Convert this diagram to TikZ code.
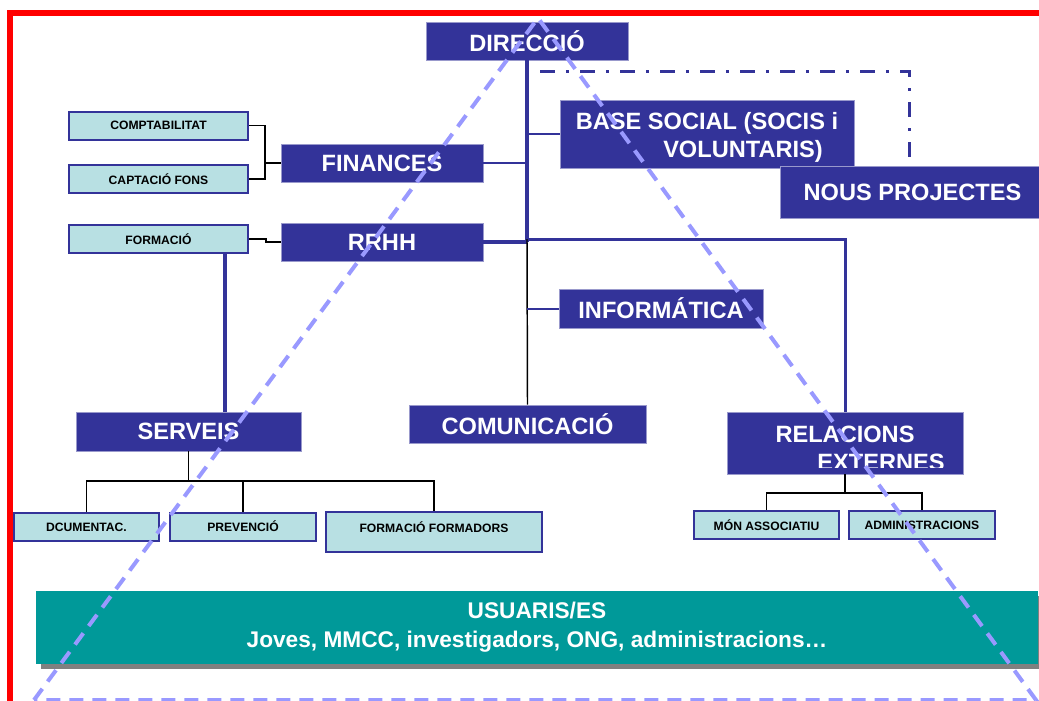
\documentclass[tikz,border=0pt]{standalone}
\usepackage{fontspec}
\setmainfont{Liberation Sans}
\usetikzlibrary{positioning,shadows}
\definecolor{navy}{HTML}{333399}
\definecolor{navyedge}{HTML}{9999CC}
\definecolor{lightbox}{HTML}{B8E0E3}
\definecolor{usuteal}{HTML}{009999}
\definecolor{trianglecol}{HTML}{9999FF}

\begin{document}
\begin{tikzpicture}[x=0.75pt, y=-0.75pt,
	big/.style={draw=navyedge, line width=0.6pt, fill=navy, text=white, inner sep=0pt,
		align=center, font=\fontsize{17.7}{21}\selectfont\bfseries},
	bigtext/.style={text=white, inner sep=0pt, align=center, font=\fontsize{17.7}{21}\selectfont\bfseries},
	small/.style={draw=navy, line width=1.5pt, fill=lightbox, inner sep=0pt,
		minimum width=134.25pt, minimum height=21pt, font=\fontsize{9.1}{10}\selectfont\bfseries},
	wire/.style={draw=navy, line width=1.5pt},
	fatwire/.style={draw=navy, line width=3pt},
	tree/.style={draw=black, line width=1.1pt},
	dashdot/.style={draw=navy, line width=2.25pt, dash pattern=on 11.25pt off 8.25pt on 2.25pt off 8.25pt},
	tri/.style={draw=trianglecol, line width=3pt, dash pattern=on 10.5pt off 6.75pt}]
	\useasboundingbox (0,0) rectangle (1039,700);
	\clip (0,0) rectangle (1039,700);
	\draw[red, line width=4.5pt] (10,13) rectangle (1060,720);
	% top of the chart
	\node[big, minimum width=151.5pt, minimum height=28.5pt] (dir) at (527,41) {DIRECCIÓ};
	\node[big, minimum width=220.5pt, minimum height=51pt] (base) at (707,134) {};
	\node[bigtext] (basetext) at (707,137) {BASE SOCIAL (SOCIS i\\\hspace*{54pt}VOLUNTARIS)};
	\node[big, minimum width=198.75pt, minimum height=39pt] (nous) at (912.5,192) {NOUS PROJECTES};
	\node[big, minimum width=151.5pt, minimum height=28.5pt] (fin) at (382,163) {FINANCES};
	\node[big, minimum width=151.5pt, minimum height=28.5pt] (rrhh) at (382,242) {RRHH};
	\node[big, minimum width=153pt, minimum height=29.25pt] (info) at (661,308.5) {INFORMÁTICA};
	\node[big, minimum width=177.75pt, minimum height=28.5pt] (comu) at (527.5,424) {COMUNICACIÓ};
	\node[big, minimum width=168.75pt, minimum height=29.25pt] (serv) at (188.5,431.5) {SERVEIS};
	\node[big, minimum width=177pt, minimum height=46.5pt] (rel) at (845,443) {};
	\begin{scope}
		\clip (rel.north west) rectangle ([yshift=5.25pt]rel.south east);
		\node[bigtext] (reltext) at (845,448) {RELACIONS\\\hspace*{54pt}EXTERNES};
	\end{scope}
	% small boxes
	\node[small] (comp) at (158.5,125.5) {COMPTABILITAT};
	\node[small] (capt) at (158.5,179) {CAPTACIÓ FONS};
	\node[small] (form) at (158.5,239) {FORMACIÓ};
	\node[small, minimum width=108.75pt] (dcum) at (86.5,527) {DCUMENTAC.};
	\node[small, minimum width=109.5pt] (prev) at (243,526.5) {PREVENCIÓ};
	\node[small, minimum width=162pt, minimum height=30pt, text height=7pt, text depth=7pt] (ff) at (434,532) {FORMACIÓ FORMADORS};
	\node[small, minimum width=108.75pt] (mon) at (766.5,525) {MÓN ASSOCIATIU};
	\node[small, minimum width=109.5pt] (admi) at (922,525) {ADMINISTRACIONS};
	\node[fill=usuteal, text=white, inner sep=0pt, minimum width=751.5pt, minimum height=54.75pt, align=center,
		font=\fontsize{17}{22}\selectfont\bfseries,
		drop shadow={shadow xshift=3.75pt, shadow yshift=-3.75pt, fill=gray, opacity=1}] (usu) at (537,627.5)
		{USUARIS/ES\\Joves, MMCC, investigadors, ONG, administracions…};
	% connectors
	\coordinate (hub) at (527,239);
	\coordinate (finbr) at (265,163);
	\coordinate (sv) at (225,412);
	\coordinate (sbar) at (189,481);
	\coordinate (rbar) at (845,493);
	\coordinate (ddstart) at (540,71);
	\coordinate (ddend) at (909,160);
	\draw[fatwire] (dir.south) -- (dir.south |- rrhh.east);
	\draw[wire] (fin.east) -- (fin.east -| dir.south);
	\draw[wire] (base.west) -- (base.west -| dir.south);
	\draw[fatwire] (rrhh.east) -- (rrhh.east -| dir.south);
	\draw[wire, line width=2.25pt] (hub) -| (rel.north);
	\draw[tree] (hub) -- (comu.north);
	\draw[wire] (info.west) -- (info.west -| hub);
	\draw[dashdot] (ddstart) -| (ddend);
	\draw[tree] (comp.east) -| (finbr) |- (capt.east);
	\draw[tree] (finbr) -- (fin.west);
	\draw[tree] (form.east) -- ++(17,0) |- (rrhh.west);
	\draw[fatwire] (form.south -| sv) -- (sv);
	\draw[tree] (serv.south) -- (serv.south |- sbar);
	\draw[tree] (dcum.north) |- (sbar) -| (ff.north);
	\draw[tree] (prev.north) -- (prev.north |- sbar);
	\draw[tree] (rel.south) -- (rbar);
	\draw[tree] (mon.north) |- (rbar) -| (admi.north);
	% dashed triangle on top
	\draw[tri] (34,700) -- (538,18) -- (1036,700) -- cycle;
\end{tikzpicture}
\end{document}
